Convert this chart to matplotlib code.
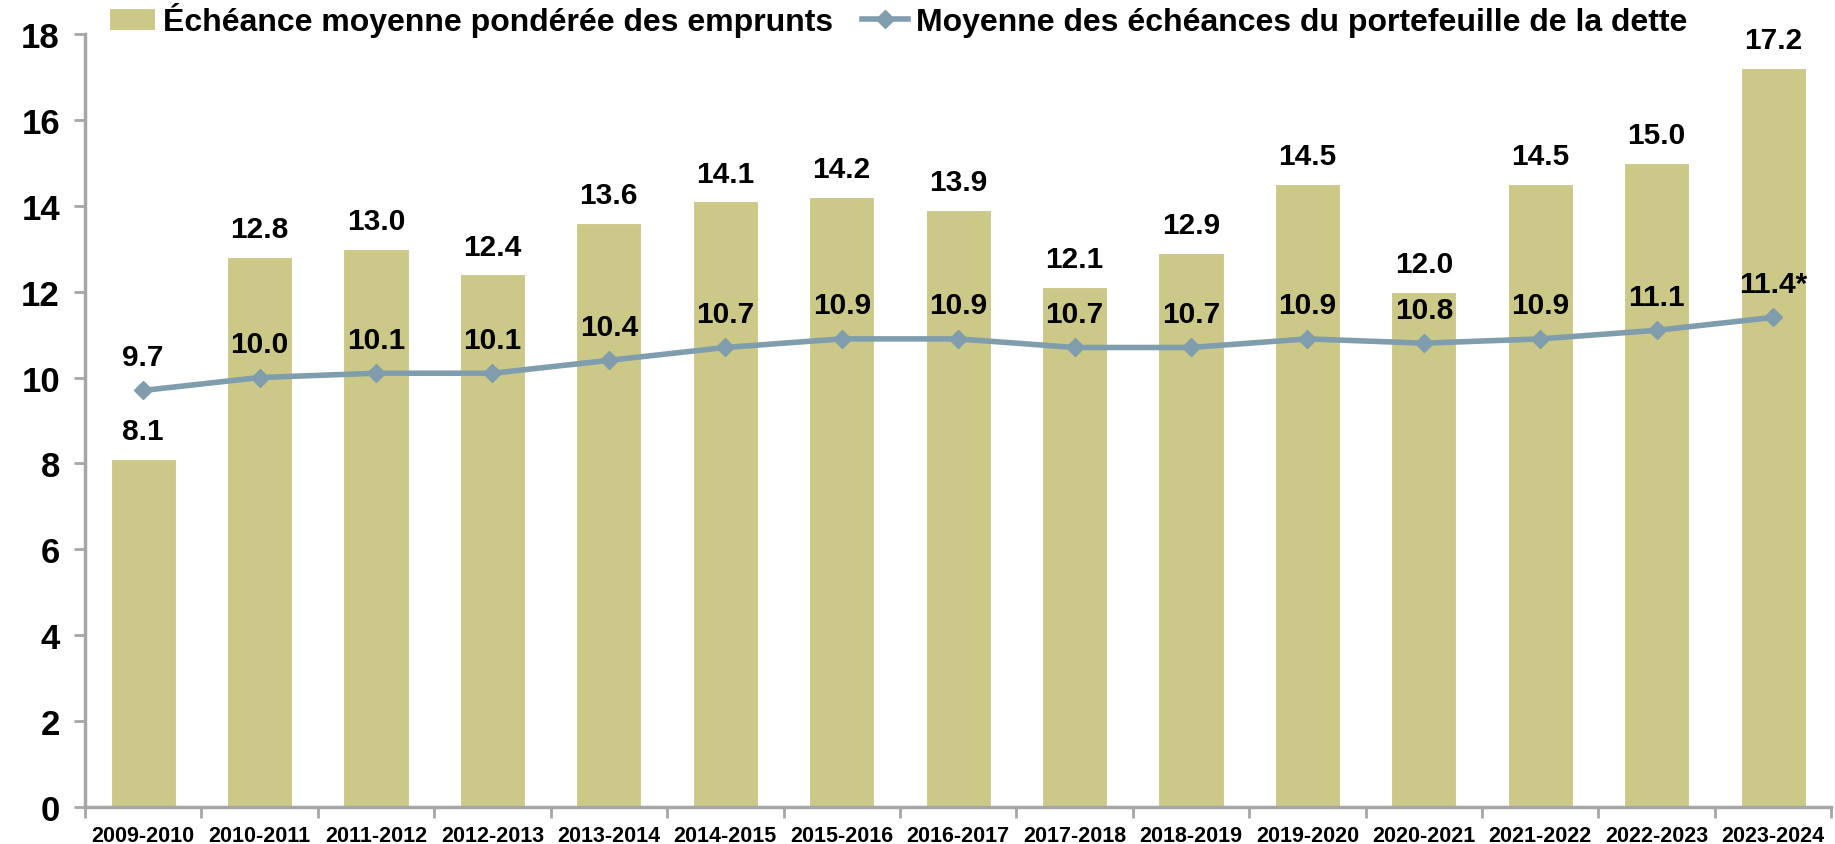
import matplotlib.pyplot as plt
import numpy as np

plt.rcParams['font.family'] = ['Liberation Sans', 'DejaVu Sans']
plt.rcParams['font.weight'] = 'bold'

# Data
years = ["2009-2010", "2010-2011", "2011-2012", "2012-2013", "2013-2014",
         "2014-2015", "2015-2016", "2016-2017", "2017-2018", "2018-2019",
         "2019-2020", "2020-2021", "2021-2022", "2022-2023", "2023-2024"]
emprunts = [8.1, 12.8, 13.0, 12.4, 13.6, 14.1, 14.2, 13.9, 12.1, 12.9,
            14.5, 12.0, 14.5, 15.0, 17.2]
portefeuille = [9.7, 10.0, 10.1, 10.1, 10.4, 10.7, 10.9, 10.9, 10.7, 10.7,
                10.9, 10.8, 10.9, 11.1, 11.4]
line_labels = ["9.7", "10.0", "10.1", "10.1", "10.4", "10.7", "10.9", "10.9",
               "10.7", "10.7", "10.9", "10.8", "10.9", "11.1", "11.4*"]

bar_color = "#CCC988"
line_color = "#7F9DAC"
axis_color = "#A6A6A6"

fig = plt.figure(figsize=(18.35, 8.45), dpi=100)
ax = fig.add_axes([0.0463, 0.0438, 0.9517, 0.9148])

x = np.arange(len(years))
bars = ax.bar(x, emprunts, width=0.56, color=bar_color, edgecolor="white", linewidth=0.8,
              label="Échéance moyenne pondérée des emprunts", zorder=2)
line, = ax.plot(x, portefeuille, color=line_color, linewidth=4, marker="D", markersize=9.5,
                label="Moyenne des échéances du portefeuille de la dette", zorder=3)

for xi, v in zip(x, emprunts):
    ax.annotate(f"{v:.1f}", (xi, v), xytext=(0, 10), textcoords="offset points",
                ha="center", va="bottom", fontsize=21.5, fontweight="bold")
for xi, v, t in zip(x, portefeuille, line_labels):
    ax.annotate(t, (xi, v), xytext=(0, 14), textcoords="offset points",
                ha="center", va="bottom", fontsize=21.5, fontweight="bold")

ax.set_xlim(-0.5, len(years) - 0.5)
ax.set_ylim(0, 18)
ax.set_yticks(range(0, 19, 2))
ax.tick_params(axis="y", labelsize=25, length=8, width=2, color=axis_color, pad=10)
ax.set_xticks(x)
ax.set_xticklabels(years)
ax.set_xticks(np.arange(-0.5, len(years), 1), minor=True)
ax.tick_params(axis="x", which="major", length=0, labelsize=15.5, pad=13)
ax.tick_params(axis="x", which="minor", length=8, width=2, color=axis_color)

for s in ["top", "right"]:
    ax.spines[s].set_visible(False)
for s in ["left", "bottom"]:
    ax.spines[s].set_color(axis_color)
    ax.spines[s].set_linewidth(2.5)

fig.legend([bars, line], [bars.get_label(), line.get_label()],
           loc="upper left", bbox_to_anchor=(0.0575, 1.0), ncol=2, frameon=False,
           fontsize=23, handlelength=1.45, handletextpad=0.25, columnspacing=0.9,
           borderpad=0.1, borderaxespad=0)

fig.savefig("out.png", dpi=100)
